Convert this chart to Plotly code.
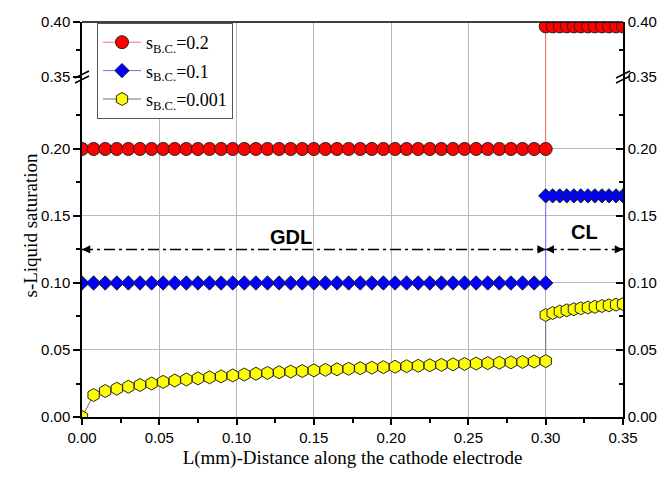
import plotly.graph_objects as go

# ---------------- data ----------------
gdl_x = [0.0, 0.0075, 0.015, 0.0225, 0.03, 0.0375, 0.045, 0.0525, 0.06, 0.0675,
         0.075, 0.0825, 0.09, 0.0975, 0.105, 0.1125, 0.12, 0.1275, 0.135, 0.1425,
         0.15, 0.1575, 0.165, 0.1725, 0.18, 0.1875, 0.195, 0.2025, 0.21, 0.2175,
         0.225, 0.2325, 0.24, 0.2475, 0.255, 0.2625, 0.27, 0.2775, 0.285, 0.2925, 0.30]
cl_x = [0.300, 0.3045, 0.3091, 0.3136, 0.3182, 0.3227, 0.3273, 0.3318, 0.3364,
        0.3409, 0.3455, 0.35]

red_gdl = [0.20] * 41
red_cl = [0.396] * 12
blue_gdl = [0.10] * 41
blue_cl = [0.165] * 12
yellow_gdl = [0.0, 0.0164, 0.0194, 0.0211, 0.0226, 0.0239, 0.0250, 0.0262, 0.0272, 0.0280,
              0.0288, 0.0296, 0.0303, 0.0310, 0.0317, 0.0323, 0.0329, 0.0334, 0.0339, 0.0343,
              0.0348, 0.0352, 0.0356, 0.0360, 0.0364, 0.0368, 0.0372, 0.0375, 0.0379, 0.0382,
              0.0386, 0.0389, 0.0393, 0.0396, 0.0399, 0.0402, 0.0405, 0.0408, 0.0411, 0.0414, 0.0417]
yellow_cl = [0.0761, 0.0776, 0.0787, 0.0796, 0.0804, 0.0811, 0.0817, 0.0822, 0.0828,
             0.0833, 0.0838, 0.0843]

series_names = ["s<sub>B.C.</sub>=0.2", "s<sub>B.C.</sub>=0.1", "s<sub>B.C.</sub>=0.001"]

x_ticks = [0.0, 0.05, 0.10, 0.15, 0.20, 0.25, 0.30, 0.35]
x_ticklabels = ["0.00", "0.05", "0.10", "0.15", "0.20", "0.25", "0.30", "0.35"]
x_minor = [0.025, 0.075, 0.125, 0.175, 0.225, 0.275, 0.325]

y_low_ticks = [0.0, 0.05, 0.10, 0.15, 0.20]
y_low_labels = ["0.00", "0.05", "0.10", "0.15", "0.20"]
y_low_minor = [0.025, 0.075, 0.125, 0.175, 0.225]
y_high_ticks = [0.35, 0.40]
y_high_labels = ["0.35", "0.40"]
y_high_minor = [0.375]

y_low_range = [0.0, 0.2537]
y_high_range = [0.35, 0.40]
x_range = [0.0, 0.35]

gdl_span = [0.0, 0.30]
cl_span = [0.30, 0.35]
arrow_level = 0.125
region_labels = ["GDL", "CL"]
region_label_x = [0.135, 0.325]
region_label_y = [0.134, 0.138]

x_title = "L(mm)-Distance along the cathode electrode"
y_title = "s-Liquid saturation"

# ---------------- layout geometry ----------------
# the page body has an 8px margin, so the figure is shrunk to fit the window
PAGE = 8
W, H = 667 - 2 * PAGE, 477 - 2 * PAGE
ML, MT = 82 - PAGE, 22 - PAGE
PW, PH = 541, 395
MR, MB = W - ML - PW, H - MT - PH
BREAK = 340 / 395  # fraction of plot height where the axis is broken

SANS = "Liberation Sans, Arial, sans-serif"
SERIF = "Liberation Serif, Times New Roman, serif"
GRID = "#b8b8b8"

fig = go.Figure()

x_all = gdl_x + cl_x
styles = [
    (red_gdl + red_cl, series_names[0], "#ff0000", "#ff7070", "circle", 13),
    (blue_gdl + blue_cl, series_names[1], "#0000ff", "#7070ff", "diamond", 11),
    (yellow_gdl + yellow_cl, series_names[2], "#ffff00", "#707070", "hexagon", 13),
]
for i, (ys, name, fill, lcol, sym, size) in enumerate(styles):
    fig.add_trace(go.Scatter(
        x=x_all, y=ys, mode="lines+markers", name=name, legendgroup="g%d" % i,
        line=dict(color=lcol, width=1),
        marker=dict(symbol=sym, size=size, color=fill, line=dict(color="#222222", width=1)),
        xaxis="x", yaxis="y",
    ))

# the s=0.2 series continues above the axis break
fig.add_trace(go.Scatter(
    x=x_all, y=styles[0][0], mode="lines+markers", showlegend=False, legendgroup="g0",
    line=dict(color="#ff7070", width=1),
    marker=dict(symbol="circle", size=13, color="#ff0000", line=dict(color="#222222", width=1)),
    xaxis="x", yaxis="y2",
))
# empty traces so that the mirrored right-hand axes are drawn
for ax in ("y3", "y4"):
    fig.add_trace(go.Scatter(x=[None], y=[None], xaxis="x", yaxis=ax,
                             showlegend=False, hoverinfo="skip"))

axis_common = dict(showline=True, linecolor="black", linewidth=1.5, zeroline=False,
                   tickcolor="black", tickwidth=1.5, automargin=False,
                   tickfont=dict(family=SANS, size=15, color="black"))

fig.update_layout(
    width=W, height=H,
    margin=dict(l=ML, r=MR, t=MT, b=MB, autoexpand=False),
    paper_bgcolor="white", plot_bgcolor="white",
    showlegend=True,
    xaxis=dict(
        domain=[0, 1], anchor="y", range=x_range,
        tickmode="array", tickvals=x_ticks, ticktext=x_ticklabels,
        ticks="outside", ticklen=6,
        showgrid=True, gridcolor=GRID, gridwidth=1,
        minor=dict(tickmode="array", tickvals=x_minor, ticks="outside", ticklen=4,
                   tickcolor="black", tickwidth=1.5, showgrid=False),
        title=dict(text=x_title, font=dict(family=SERIF, size=19, color="black"), standoff=15),
        **axis_common,
    ),
    yaxis=dict(
        domain=[0, BREAK], anchor="x", range=y_low_range, side="left",
        tickmode="array", tickvals=y_low_ticks, ticktext=y_low_labels,
        ticks="outside", ticklen=7,
        showgrid=True, gridcolor=GRID, gridwidth=1,
        minor=dict(tickmode="array", tickvals=y_low_minor, ticks="outside", ticklen=4,
                   tickcolor="black", tickwidth=1.5, showgrid=False),
        **axis_common,
    ),
    yaxis2=dict(
        domain=[BREAK, 1], anchor="x", range=y_high_range, side="left",
        tickmode="array", tickvals=y_high_ticks, ticktext=y_high_labels,
        ticks="outside", ticklen=7, showgrid=False,
        minor=dict(tickmode="array", tickvals=y_high_minor, ticks="outside", ticklen=4,
                   tickcolor="black", tickwidth=1.5, showgrid=False),
        **axis_common,
    ),
    yaxis3=dict(
        overlaying="y", anchor="x", side="right", range=y_low_range,
        tickmode="array", tickvals=y_low_ticks, ticktext=y_low_labels,
        ticks="inside", ticklen=7, showgrid=False,
        minor=dict(tickmode="array", tickvals=y_low_minor, ticks="inside", ticklen=4,
                   tickcolor="black", tickwidth=1.5, showgrid=False),
        **axis_common,
    ),
    yaxis4=dict(
        overlaying="y2", anchor="x", side="right", range=y_high_range,
        tickmode="array", tickvals=y_high_ticks, ticktext=y_high_labels,
        ticks="inside", ticklen=7, showgrid=False,
        minor=dict(tickmode="array", tickvals=y_high_minor, ticks="inside", ticklen=4,
                   tickcolor="black", tickwidth=1.5, showgrid=False),
        **axis_common,
    ),
    legend=dict(
        x=15 / PW, y=1 - 1 / PH, xanchor="left", yanchor="top",
        bgcolor="white", bordercolor="#555555", borderwidth=1,
        font=dict(family=SERIF, size=18, color="black"),
        itemwidth=38, tracegroupgap=2,
    ),
)

shapes = []
# top frame line
shapes.append(dict(type="line", xref="paper", yref="paper", x0=0, x1=1, y0=1, y1=1,
                   line=dict(color="black", width=1.5)))
# axis-break marks on both y axes
px_x, px_y = 1 / PW, 1 / PH
for xb in (0, 1):
    for off in (-2.5, 2.5):
        shapes.append(dict(type="line", xref="paper", yref="paper",
                           x0=xb - 7 * px_x, x1=xb + 7 * px_x,
                           y0=BREAK + (off - 3.5) * px_y, y1=BREAK + (off + 3.5) * px_y,
                           line=dict(color="black", width=1.5)))
# dash-dot region arrows
for span in (gdl_span, cl_span):
    shapes.append(dict(type="line", xref="x", yref="y", x0=span[0], x1=span[1],
                       y0=arrow_level, y1=arrow_level,
                       line=dict(color="black", width=1.5, dash="11px,4px,3px,4px")))
fig.update_layout(shapes=shapes)

ann = []
for span in (gdl_span, cl_span):
    for tip, tail in ((span[0], 9), (span[1], -9)):
        ann.append(dict(x=tip, y=arrow_level, xref="x", yref="y", ax=tail, ay=0,
                        text="", showarrow=True, arrowhead=2, arrowsize=1.1,
                        arrowwidth=1.5, arrowcolor="black"))
for lab, lx, ly in zip(region_labels, region_label_x, region_label_y):
    ann.append(dict(x=lx, y=ly, xref="x", yref="y", text="<b>" + lab + "</b>",
                    showarrow=False, font=dict(family=SANS, size=20, color="black")))
ann.append(dict(x=-65 / PW, y=(395 - 203) / PH, xref="paper", yref="paper",
                text=y_title, textangle=-90, showarrow=False,
                font=dict(family=SERIF, size=19, color="black")))
fig.update_layout(annotations=ann)

fig.write_html("out.html")
